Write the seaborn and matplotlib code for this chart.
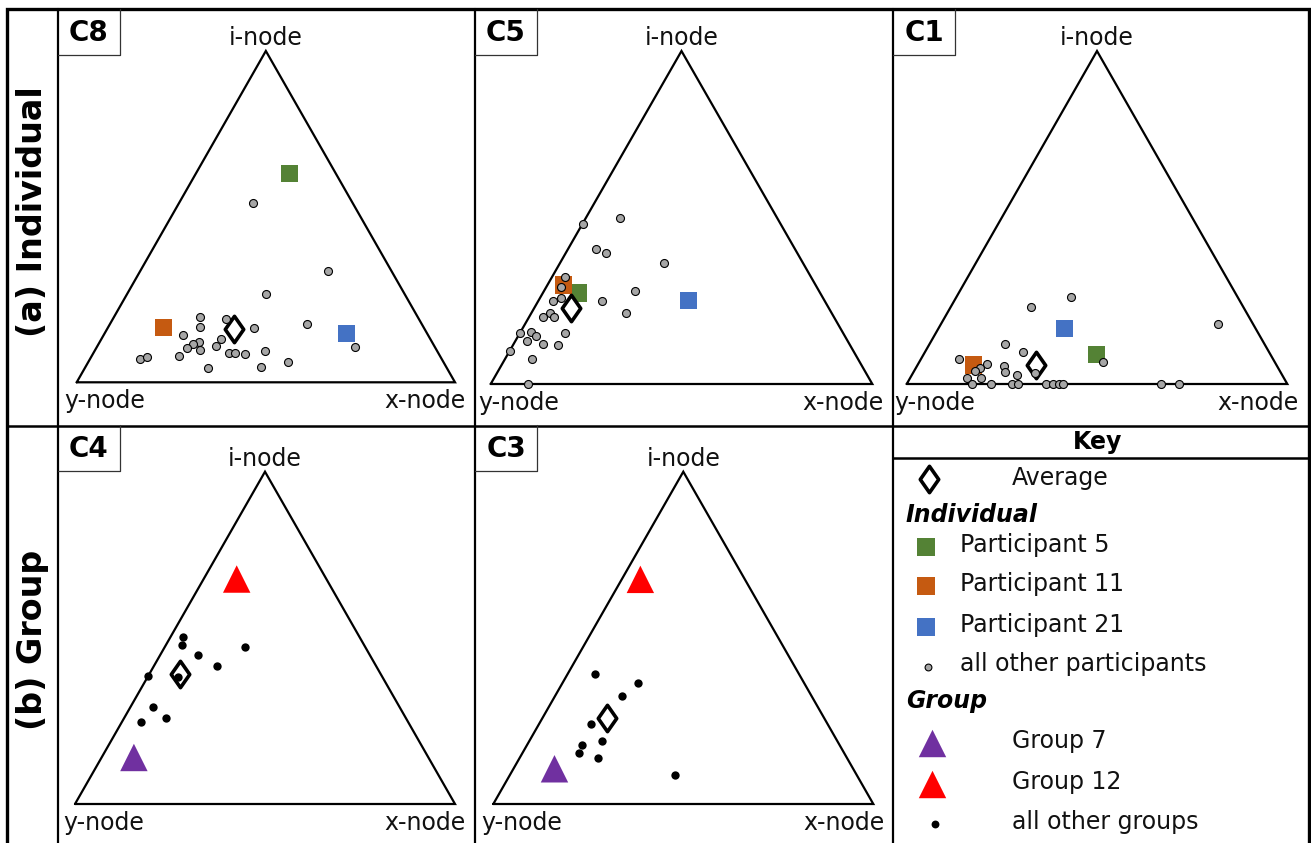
import numpy as np
import pandas as pd
import matplotlib
matplotlib.use("Agg")
import matplotlib.pyplot as plt
from matplotlib.path import Path
from matplotlib.markers import MarkerStyle
import seaborn as sns

sns.set_theme(style="white")
plt.rcParams["font.family"] = ["DejaVu Sans"]

# ---------------------------------------------------------------------------
# Ternary compositions: share of the i-node (top) and x-node (bottom right);
# the y-node share (bottom left) is the remainder 1 - i - x.
# ---------------------------------------------------------------------------
participant_names = ["Participant 5", "Participant 11", "Participant 21"]
participant_colors = ["#548235", "#C55A11", "#4472C4"]
group_names = ["Group 7", "Group 12"]
group_colors = ["#7030A0", "#FF0000"]

# C8 - individual
c8_other_i = [0.540, 0.336, 0.267, 0.196, 0.166, 0.190, 0.164, 0.177, 0.144, 0.122,
              0.117, 0.103, 0.097, 0.132, 0.109, 0.089, 0.089, 0.086, 0.095, 0.080,
              0.070, 0.076, 0.044, 0.045, 0.062, 0.108]
c8_other_x = [0.196, 0.497, 0.366, 0.229, 0.244, 0.300, 0.386, 0.519, 0.208, 0.263,
              0.249, 0.240, 0.278, 0.316, 0.314, 0.358, 0.374, 0.403, 0.451, 0.230,
              0.132, 0.148, 0.325, 0.466, 0.527, 0.681]
c8_part_i = [0.630, 0.165, 0.147]
c8_part_x = [0.247, 0.147, 0.639]
c8_avg = (0.161, 0.335)

# C5 - individual
c5_other_i = [0.482, 0.500, 0.405, 0.393, 0.364, 0.280, 0.249, 0.214, 0.322, 0.291,
              0.257, 0.249, 0.212, 0.200, 0.200, 0.154, 0.157, 0.143, 0.129, 0.120,
              0.118, 0.152, 0.100, 0.074, 0.000]
c5_other_x = [0.000, 0.090, 0.074, 0.106, 0.271, 0.238, 0.166, 0.248, 0.034, 0.040,
              0.056, 0.040, 0.049, 0.038, 0.065, 0.000, 0.028, 0.046, 0.031, 0.078,
              0.117, 0.120, 0.000, 0.071, 0.098]
c5_part_i = [0.273, 0.297, 0.251]
c5_part_x = [0.093, 0.042, 0.392]
c5_avg = (0.228, 0.096)

# C1 - individual
c1_other_i = [0.260, 0.230, 0.180, 0.119, 0.095, 0.075, 0.059, 0.047, 0.039, 0.019,
              0.019, 0.055, 0.037, 0.027, 0.034, 0.067, 0.000, 0.000, 0.000, 0.000,
              0.000, 0.000, 0.000, 0.000, 0.000, 0.000]
c1_other_x = [0.303, 0.211, 0.729, 0.199, 0.257, 0.101, 0.181, 0.170, 0.159, 0.150,
              0.186, 0.228, 0.240, 0.276, 0.320, 0.483, 0.172, 0.221, 0.277, 0.292,
              0.366, 0.384, 0.400, 0.411, 0.667, 0.715]
c1_part_i = [0.089, 0.057, 0.166]
c1_part_x = [0.455, 0.147, 0.332]
c1_avg = (0.058, 0.310)

# C4 - group
c4_other_i = [0.502, 0.477, 0.449, 0.473, 0.415, 0.384, 0.382, 0.293, 0.248, 0.258]
c4_other_x = [0.032, 0.043, 0.099, 0.211, 0.166, 0.000, 0.079, 0.058, 0.050, 0.110]
c4_group_i = [0.140, 0.677]
c4_group_x = [0.085, 0.087]
c4_avg = (0.391, 0.081)

# C3 - group
c3_other_i = [0.391, 0.364, 0.324, 0.242, 0.191, 0.178, 0.152, 0.138, 0.087]
c3_other_x = [0.072, 0.200, 0.176, 0.137, 0.190, 0.145, 0.149, 0.206, 0.435]
c3_group_i = [0.106, 0.676]
c3_group_x = [0.108, 0.049]
c3_avg = (0.260, 0.168)

row_labels = ["(a) Individual", "(b) Group"]

# ---------------------------------------------------------------------------
W, H = 1311, 843
SQ3 = np.sqrt(3) / 2

avg_marker = MarkerStyle(Path([(0, 1), (0.7, 0), (0, -1), (-0.7, 0), (0, 1)],
                              [Path.MOVETO, Path.LINETO, Path.LINETO, Path.LINETO,
                               Path.CLOSEPOLY]))
AVG_S = 360
AVG_LW = 2.6


def to_xy(i, x):
    i = np.asarray(i, dtype=float)
    x = np.asarray(x, dtype=float)
    return x + i / 2.0, i * SQ3


fig = plt.figure(figsize=(W / 100, H / 100), dpi=100)
fig.patch.set_facecolor("white")

# cell (left, top, right, bottom) in pixels and the triangle base-left corner + scale
panels = [
    dict(name="C8", cell=(58, 9, 475, 425), base=(76.7, 382.3, 378.3, 382.6),
         oi=c8_other_i, ox=c8_other_x, pi=c8_part_i, px=c8_part_x, avg=c8_avg, kind="ind"),
    dict(name="C5", cell=(475, 9, 893, 425), base=(490.7, 384.0, 381.6, 384.5),
         oi=c5_other_i, ox=c5_other_x, pi=c5_part_i, px=c5_part_x, avg=c5_avg, kind="ind"),
    dict(name="C1", cell=(893, 9, 1309, 425), base=(906.7, 384.0, 380.6, 384.5),
         oi=c1_other_i, ox=c1_other_x, pi=c1_part_i, px=c1_part_x, avg=c1_avg, kind="ind"),
    dict(name="C4", cell=(58, 425, 475, 843), base=(75.0, 804.0, 380.0, 383.7),
         oi=c4_other_i, ox=c4_other_x, pi=c4_group_i, px=c4_group_x, avg=c4_avg, kind="grp"),
    dict(name="C3", cell=(475, 425, 893, 843), base=(493.3, 804.0, 380.0, 383.7),
         oi=c3_other_i, ox=c3_other_x, pi=c3_group_i, px=c3_group_x, avg=c3_avg, kind="grp"),
]

for p in panels:
    L, T, R, B = p["cell"]
    bx, by, sx, sy = p["base"]
    ax = fig.add_axes([L / W, 1 - B / H, (R - L) / W, (B - T) / H])
    ax.set_xlim((L - bx) / sx, (R - bx) / sx)
    ax.set_ylim((by - B) / sy, (by - T) / sy)
    ax.axis("off")
    ax.patch.set_alpha(0)

    # triangle outline
    ax.plot([0, 1, 0.5, 0], [0, 0, SQ3, 0], color="black", lw=1.6,
            solid_joinstyle="miter", zorder=1)

    ax.annotate("i-node", xy=(0.5, SQ3), xytext=(0, 6), textcoords="offset pixels",
                ha="center", va="baseline", fontsize=17, color="#111111")
    ax.annotate("y-node", xy=(0, 0), xytext=(-12, -26), textcoords="offset pixels",
                ha="left", va="baseline", fontsize=17, color="#111111")
    ax.annotate("x-node", xy=(1, 0), xytext=(11, -26), textcoords="offset pixels",
                ha="right", va="baseline", fontsize=17, color="#111111")

    # highlighted participants / groups
    hx, hy = to_xy(p["pi"], p["px"])
    if p["kind"] == "ind":
        hl = pd.DataFrame({"X": hx, "Y": hy, "who": participant_names})
        sns.scatterplot(data=hl, x="X", y="Y", hue="who", hue_order=participant_names,
                        palette=participant_colors, marker="s", s=155, linewidth=0,
                        legend=False, ax=ax, zorder=2)
    else:
        hl = pd.DataFrame({"X": hx, "Y": hy, "who": group_names})
        sns.scatterplot(data=hl, x="X", y="Y", hue="who", hue_order=group_names,
                        palette=group_colors, marker="^", s=390, linewidth=0,
                        legend=False, ax=ax, zorder=2)

    # average
    axx, ayy = to_xy([p["avg"][0]], [p["avg"][1]])
    sns.scatterplot(x=axx, y=ayy, marker=avg_marker, s=AVG_S, color="white",
                    edgecolor="black", linewidth=AVG_LW, ax=ax, zorder=3)

    # everyone else
    ox, oy = to_xy(p["oi"], p["ox"])
    others = pd.DataFrame({"X": ox, "Y": oy})
    if p["kind"] == "ind":
        sns.scatterplot(data=others, x="X", y="Y", marker="o", s=33, color="#A6A6A6",
                        edgecolor="black", linewidth=0.8, ax=ax, zorder=4, clip_on=False)
    else:
        sns.scatterplot(data=others, x="X", y="Y", marker="o", s=36, color="black",
                        linewidth=0, ax=ax, zorder=4, clip_on=False)
    ax.set_xlabel("")
    ax.set_ylabel("")

# ---------------------------------------------------------------------------
# frame, panel tags, row titles and key (pixel coordinates)
# ---------------------------------------------------------------------------
ov = fig.add_axes([0, 0, 1, 1], zorder=10)
ov.set_xlim(0, W)
ov.set_ylim(H, 0)
ov.axis("off")
ov.patch.set_alpha(0)

# outer frame
ov.plot([7, 7, 1309, 1309], [H + 5, 9, 9, H + 5], color="black", lw=2.4,
        solid_joinstyle="miter", clip_on=False)
# grid lines
for xv in (58, 475, 893):
    ov.plot([xv, xv], [9, H + 5], color="black", lw=1.6)
ov.plot([7, 1309], [425.5, 425.5], color="black", lw=1.8)
ov.plot([893, 1309], [458, 458], color="black", lw=1.8)

# panel tags
for p in panels:
    L, T, R, B = p["cell"]
    ov.plot([L, L + 62, L + 62], [T + 46, T + 46, T], color="#333333", lw=0.9)
    ov.text(L + 31, T + 24, p["name"], ha="center", va="center",
            fontsize=20, fontweight="bold", color="black")

# row titles
ov.text(33, 212, row_labels[0], rotation=90, ha="center", va="center",
        fontsize=24, fontweight="bold", color="black")
ov.text(33, 640, row_labels[1], rotation=90, ha="center", va="center",
        fontsize=24, fontweight="bold", color="black")

# key
ov.text(1098, 442, "Key", ha="center", va="center", fontsize=17,
        fontweight="bold", color="black")
ov.scatter([929], [479], marker=avg_marker, s=AVG_S, facecolor="white",
           edgecolor="black", linewidth=AVG_LW)
ov.text(1012, 478, "Average", ha="left", va="center", fontsize=17, color="#111111")

ov.text(906, 515, "Individual", ha="left", va="center", fontsize=17,
        fontweight="bold", fontstyle="italic", color="black")
key_part_y = [547, 586, 627]
for name, col, yy in zip(participant_names, participant_colors, key_part_y):
    ov.scatter([926], [yy], marker="s", s=155, color=col, linewidth=0)
    ov.text(960, yy - 2, name, ha="left", va="center", fontsize=17, color="#111111")
ov.scatter([928], [667], marker="o", s=24, color="#A6A6A6", edgecolor="black",
           linewidth=0.8)
ov.text(960, 664, "all other participants", ha="left", va="center", fontsize=17,
        color="#111111")

ov.text(906, 701, "Group", ha="left", va="center", fontsize=17,
        fontweight="bold", fontstyle="italic", color="black")
key_grp_y = [743, 784]
for name, col, yy in zip(group_names, group_colors, key_grp_y):
    ov.scatter([932], [yy], marker="^", s=390, color=col, linewidth=0)
    ov.text(1012, yy - 2, name, ha="left", va="center", fontsize=17, color="#111111")
ov.scatter([935], [824], marker="o", s=32, color="black", linewidth=0)
ov.text(1012, 822, "all other groups", ha="left", va="center", fontsize=17,
        color="#111111")

fig.savefig("out.png", dpi=100, facecolor="white")
